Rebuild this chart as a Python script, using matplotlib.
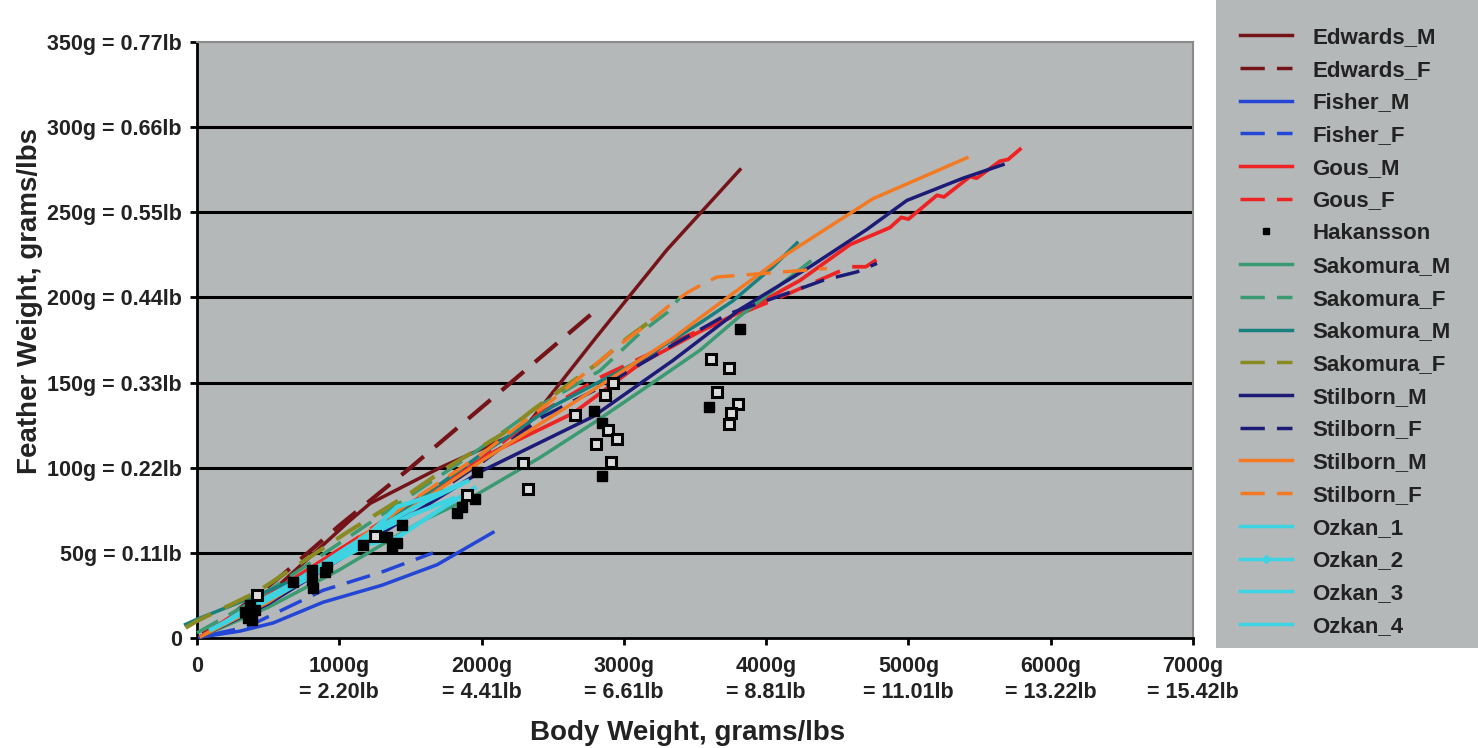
import matplotlib
matplotlib.use("Agg")
import matplotlib.pyplot as plt
from matplotlib.lines import Line2D
from matplotlib.patches import Rectangle

plt.rcParams['font.family'] = ['Liberation Sans', 'DejaVu Sans']
plt.rcParams['font.weight'] = 'bold'

# ---------------------------------------------------------------- data (grams)
edwards_m_x = [50, 457, 1075, 1216, 1708, 2291, 2800, 3303, 3816]
edwards_m_y = [3, 22, 69, 79, 100, 122, 176, 228, 275]
edwards_f_x = [250, 600, 1000, 1500, 2150, 2811]
edwards_f_y = [14, 37, 66, 100, 146, 193]

fisher_m_x = [20, 300, 534, 886, 1300, 1687, 2080]
fisher_m_y = [0.5, 4, 8.8, 21, 31, 43, 62]
fisher_f_x = [100, 351, 886, 1307, 1659]
fisher_f_y = [2, 6.5, 28, 39, 50]

gous_m_x = [30, 300, 700, 1000, 1400, 1708, 2100, 2643, 3113, 3535, 3957, 4238,
            4589, 4870, 4950, 5000, 5201, 5250, 5433, 5480, 5643, 5700, 5784]
gous_m_y = [1, 16, 36, 52, 72, 89, 110, 132, 161, 180, 197, 210,
            231, 241, 247, 246, 260, 259, 271, 270, 280, 281, 287]
gous_f_x = [50, 400, 900, 1400, 1989, 2411, 2833, 3486, 4097, 4287, 4589, 4700, 4849]
gous_f_y = [2, 20, 46, 74, 104.5, 132, 153, 179, 200, 207, 218, 218, 226]

hak_x = [337, 372, 408, 358, 387, 675, 808, 808, 815, 914, 900, 1167, 1335, 1370,
         1406, 1441, 1827, 1862, 1954, 1968, 2790, 2846, 2846, 3598, 3816]
hak_y = [15.3, 19.4, 16.4, 11.7, 10.6, 32.9, 39.9, 34.1, 29.4, 41.7, 38.8, 54.6, 59.3,
         53.4, 55.8, 66.4, 73.4, 76.9, 81.6, 97.5, 133.3, 126.3, 95.1, 135.7, 181.5]
hak_open_x = [422, 1251, 1898, 2291, 2326, 2657, 2867, 2924, 2888, 2952, 2804, 2910,
              3612, 3739, 3654, 3802, 3753, 3739]
hak_open_y = [25.3, 59.9, 84, 102.8, 87.5, 131, 142.7, 149.7, 122.1, 116.9, 113.9, 103.4,
              163.8, 158.6, 144.5, 137.4, 132.1, 125.7]

sak_m1_x = [30, 500, 1000, 1588, 1940, 2411, 2800, 3205, 3535, 3816, 4308]
sak_m1_y = [1, 18, 40, 69, 83, 106, 127, 150, 169, 189, 221]
sak_f1_x = [0, 400, 900, 1400, 1900, 2400, 2832, 3113, 3303, 3395]
sak_f1_y = [3, 22, 50, 78, 106, 136, 157, 179, 191, 200]
sak_m2_x = [-80, 0, 421, 794, 1356, 2000, 2500, 3113, 3535, 3767, 4048, 4217]
sak_m2_y = [8, 11, 25, 38, 69, 108, 136, 163, 185, 198, 218, 232]
sak_f2_x = [-80, 0, 421, 1054, 1497, 1757, 2150, 2361, 2811, 3022, 3250]
sak_f2_y = [6, 10, 27, 62, 85, 100, 120, 134, 161, 176, 190]

stil_m1_x = [30, 500, 1000, 1500, 2000, 2783, 3345, 3816, 4308, 4709, 4990, 5383, 5665]
stil_m1_y = [1, 20, 46, 72, 98, 130, 163, 193, 218, 240, 257, 270, 278]
stil_f1_x = [50, 500, 1000, 1500, 2000, 2432, 2900, 3300, 3725, 4168, 4399, 4638, 4779]
stil_f1_y = [2, 21, 48, 75, 103, 130, 150, 170, 190, 203, 210, 215, 220]
stil_m2_x = [30, 500, 1000, 1500, 2000, 2643, 3345, 3535, 4118, 4751, 5411]
stil_m2_y = [1, 21, 48, 76, 104, 138, 176, 188, 224, 258, 282]
stil_f2_x = [50, 500, 1000, 1500, 2000, 2500, 2952, 3113, 3345, 3450, 3535, 3654, 3816, 4427]
stil_f2_y = [2, 22, 50, 80, 108, 140, 171, 181, 197, 203, 207, 212, 213, 217]

ozk1_x = [100, 400, 800, 1100, 1406, 1700, 1900]
ozk1_y = [5, 18, 36, 52, 77, 85, 92]
ozk2_x = [150, 450, 900, 1200, 1406, 1700, 1950]
ozk2_y = [7, 22, 42, 55, 59, 75, 88]
ozk3_x = [200, 500, 950, 1250, 1500, 1800]
ozk3_y = [9, 24, 44, 62, 72, 82]
ozk4_x = [250, 600, 1000, 1300, 1600, 1850]
ozk4_y = [12, 28, 50, 66, 80, 90]

y_ticks = [0, 50, 100, 150, 200, 250, 300, 350]
y_labels = ["0", "50g = 0.11lb", "100g = 0.22lb", "150g = 0.33lb", "200g = 0.44lb",
            "250g = 0.55lb", "300g = 0.66lb", "350g = 0.77lb"]
x_ticks = [0, 1000, 2000, 3000, 4000, 5000, 6000, 7000]
x_labels = ["0", "1000g\n= 2.20lb", "2000g\n= 4.41lb", "3000g\n= 6.61lb", "4000g\n= 8.81lb",
            "5000g\n= 11.01lb", "6000g\n= 13.22lb", "7000g\n= 15.42lb"]

# ---------------------------------------------------------------- styles
dash = (0, (7, 3.5))
maroon, blue, red = '#741418', '#2446d6', '#ee2424'
green, teal, olive = '#3a9a72', '#18807e', '#8a8a22'
navy, orange, cyan = '#1c1c78', '#f37a22', '#3cd4e2'
bg = '#b5b8b9'

series = [
    ("Edwards_M", edwards_m_x, edwards_m_y, maroon, '-', 2.5),
    ("Edwards_F", edwards_f_x, edwards_f_y, maroon, dash, 3.0),
    ("Fisher_M", fisher_m_x, fisher_m_y, blue, '-', 2.5),
    ("Fisher_F", fisher_f_x, fisher_f_y, blue, dash, 2.5),
    ("Gous_M", gous_m_x, gous_m_y, red, '-', 2.7),
    ("Gous_F", gous_f_x, gous_f_y, red, dash, 2.7),
    ("Hakansson", None, None, None, None, None),
    ("Sakomura_M", sak_m1_x, sak_m1_y, green, '-', 2.5),
    ("Sakomura_F", sak_f1_x, sak_f1_y, green, dash, 2.5),
    ("Sakomura_M", sak_m2_x, sak_m2_y, teal, '-', 2.5),
    ("Sakomura_F", sak_f2_x, sak_f2_y, olive, dash, 3.0),
    ("Stilborn_M", stil_m1_x, stil_m1_y, navy, '-', 2.5),
    ("Stilborn_F", stil_f1_x, stil_f1_y, navy, dash, 2.5),
    ("Stilborn_M", stil_m2_x, stil_m2_y, orange, '-', 2.5),
    ("Stilborn_F", stil_f2_x, stil_f2_y, orange, dash, 2.5),
    ("Ozkan_1", ozk1_x, ozk1_y, cyan, '-', 3.2),
    ("Ozkan_2", ozk2_x, ozk2_y, cyan, '-', 3.2),
    ("Ozkan_3", ozk3_x, ozk3_y, cyan, '-', 3.2),
    ("Ozkan_4", ozk4_x, ozk4_y, cyan, '-', 3.2),
]

fig = plt.figure(figsize=(14.78, 7.48), dpi=100)
ax = fig.add_axes([197/1478, 1 - 638/748, 996/1478, 596/748])
ax.set_facecolor(bg)

handles = []
for name, xs, ys, col, ls, lw in series:
    if name == "Hakansson":
        ax.plot(hak_x, hak_y, 's', color='black', ms=7, zorder=6)
        ax.plot(hak_open_x, hak_open_y, 's', mfc='#dcdcdc', mec='black', mew=2.2, ms=7, zorder=6)
        handles.append(Line2D([0], [0], marker='s', color='black', ls='None', ms=5))
        continue
    marker = 'D' if name == "Ozkan_2" else None
    ax.plot(xs, ys, color=col, ls=ls, lw=lw, zorder=3, clip_on=False)
    handles.append(Line2D([0], [0], color=col, ls=ls, lw=2.5, marker=marker, ms=4))

for yv in y_ticks[1:-1]:
    ax.axhline(yv, color='black', lw=2.2, zorder=2)

ax.set_xlim(0, 7000)
ax.set_ylim(0, 350)
ax.set_yticks(y_ticks)
ax.set_yticklabels(y_labels, fontsize=15.5, color='#222222')
ax.set_xticks(x_ticks)
ax.set_xticklabels(x_labels, fontsize=15.5, color='#222222')
for lab in ax.get_xticklabels():
    lab.set_linespacing(1.3)
ax.tick_params(axis='both', direction='out', width=2, length=5, color='black')
ax.tick_params(axis='x', pad=8)
ax.tick_params(axis='y', pad=6)

for side in ['left', 'bottom']:
    ax.spines[side].set_linewidth(2)
    ax.spines[side].set_color('black')
for side in ['top', 'right']:
    ax.spines[side].set_linewidth(1.5)
    ax.spines[side].set_color('#8a8a8a')

ax.set_xlabel("Body Weight, grams/lbs", fontsize=20, fontweight='bold', color='#222222')
ax.set_ylabel("Feather Weight, grams/lbs", fontsize=20, fontweight='bold', color='#222222')
ax.xaxis.set_label_coords(0.493, -0.137)
ax.yaxis.set_label_coords(-0.155, 0.565)

# legend box
fig.patches.append(Rectangle((1216/1478, 1 - 648/748), 262/1478, 648/748,
                             transform=fig.transFigure, facecolor=bg, edgecolor='none', zorder=0))
fig.legend(handles, [s[0] for s in series], loc='upper left',
           bbox_to_anchor=(1220/1478, 1 - 7/748), frameon=False,
           fontsize=16, handlelength=2.35, handletextpad=0.9, labelspacing=0.527,
           labelcolor='#222222')

fig.savefig("out.png", dpi=100)
